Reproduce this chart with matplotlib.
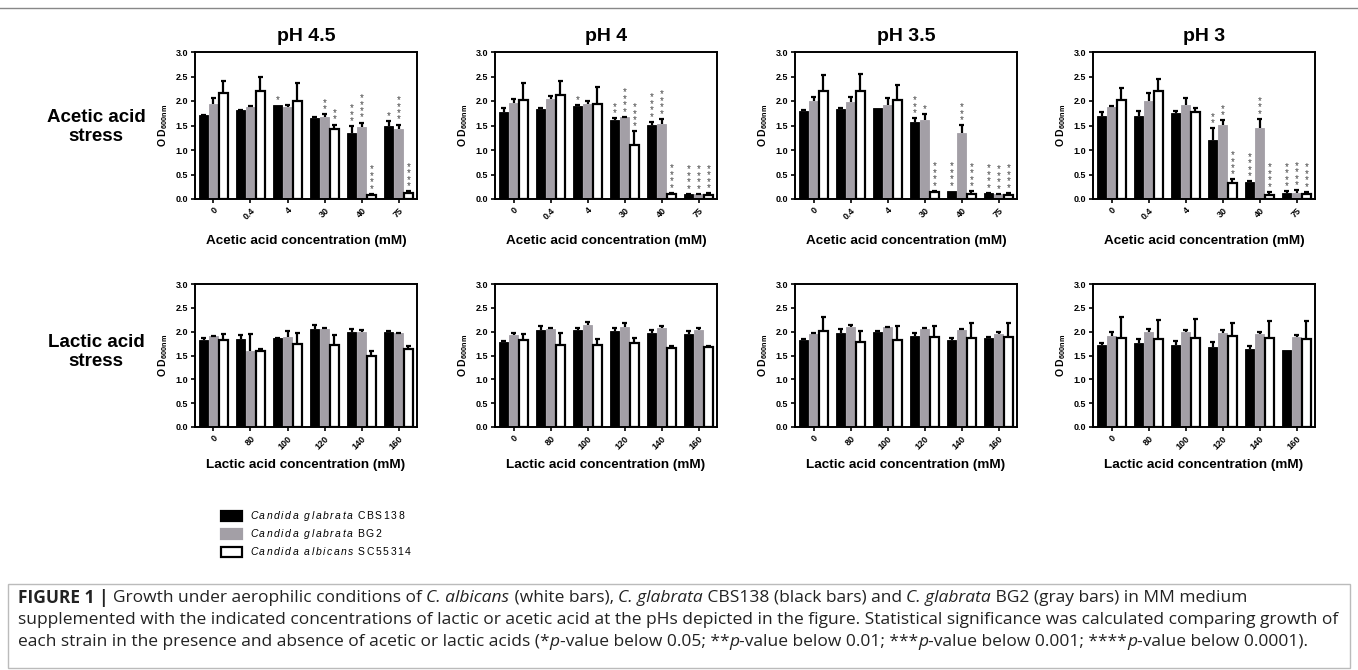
import matplotlib
matplotlib.use("Agg")
import matplotlib.pyplot as plt
import numpy as np
from matplotlib.patches import Rectangle
from matplotlib.lines import Line2D

plt.rcParams["font.family"] = ["Liberation Sans", "DejaVu Sans"]
plt.rcParams["mathtext.fontset"] = "custom"
plt.rcParams["mathtext.rm"] = "Liberation Sans:bold"
plt.rcParams["mathtext.bf"] = "Liberation Sans:bold"

# ---- data ----
ph_labels = ["pH 4.5", "pH 4", "pH 3.5", "pH 3"]
acetic_conc = ["0", "0.4", "4", "30", "40", "75"]
lactic_conc = ["0", "80", "100", "120", "140", "160"]
strain_names = [("Candida glabrata", "CBS138"),
                ("Candida glabrata", "BG2"),
                ("Candida albicans", "SC55314")]

# acetic acid, one row per pH
acetic_cbs138 = [[1.71, 1.81, 1.92, 1.66, 1.35, 1.48],
                 [1.78, 1.84, 1.90, 1.62, 1.52, 0.10],
                 [1.80, 1.84, 1.85, 1.58, 0.17, 0.12],
                 [1.70, 1.70, 1.76, 1.21, 0.35, 0.12]]
acetic_cbs138_sd = [[0.01, 0.01, 0.00, 0.01, 0.14, 0.11],
                    [0.08, 0.01, 0.02, 0.03, 0.06, 0.01],
                    [0.01, 0.02, 0.00, 0.07, 0.00, 0.01],
                    [0.07, 0.10, 0.03, 0.23, 0.01, 0.04]]
acetic_bg2 = [[1.93, 1.88, 1.87, 1.67, 1.46, 1.43],
              [1.96, 2.05, 1.93, 1.67, 1.54, 0.10],
              [2.00, 1.98, 1.92, 1.62, 1.34, 0.10],
              [1.87, 2.00, 1.92, 1.51, 1.44, 0.13]]
acetic_bg2_sd = [[0.13, 0.02, 0.04, 0.06, 0.10, 0.09],
                 [0.09, 0.06, 0.06, 0.01, 0.10, 0.01],
                 [0.09, 0.10, 0.14, 0.11, 0.17, 0.01],
                 [0.03, 0.16, 0.14, 0.10, 0.20, 0.05]]
acetic_sc5314 = [[2.17, 2.20, 2.00, 1.43, 0.09, 0.13],
                 [2.02, 2.12, 1.94, 1.10, 0.10, 0.08],
                 [2.21, 2.21, 2.02, 0.15, 0.11, 0.09],
                 [2.03, 2.21, 1.78, 0.32, 0.09, 0.10]]
acetic_sc5314_sd = [[0.24, 0.28, 0.36, 0.09, 0.02, 0.03],
                    [0.34, 0.28, 0.34, 0.28, 0.03, 0.04],
                    [0.33, 0.35, 0.31, 0.02, 0.05, 0.04],
                    [0.23, 0.24, 0.07, 0.08, 0.06, 0.05]]
# number of significance stars
acetic_cbs138_sig = [[0, 0, 1, 0, 3, 1],
                     [0, 0, 1, 2, 4, 4],
                     [0, 0, 0, 3, 4, 4],
                     [0, 0, 0, 2, 4, 4]]
acetic_bg2_sig = [[0, 0, 0, 2, 4, 4],
                  [0, 0, 0, 4, 4, 4],
                  [0, 0, 0, 1, 3, 4],
                  [0, 0, 0, 2, 3, 4]]
acetic_sc5314_sig = [[0, 0, 0, 2, 4, 4],
                     [0, 0, 0, 4, 4, 4],
                     [0, 0, 0, 4, 4, 4],
                     [0, 0, 0, 4, 4, 4]]

# lactic acid, one row per pH
lactic_cbs138 = [[1.83, 1.84, 1.86, 2.05, 2.00, 2.00],
                 [1.79, 2.03, 2.04, 2.02, 1.98, 1.95],
                 [1.82, 1.98, 2.00, 1.91, 1.83, 1.86],
                 [1.72, 1.77, 1.72, 1.68, 1.64, 1.62]]
lactic_cbs138_sd = [[0.03, 0.09, 0.01, 0.09, 0.05, 0.01],
                    [0.02, 0.09, 0.03, 0.05, 0.06, 0.07],
                    [0.02, 0.08, 0.02, 0.07, 0.04, 0.03],
                    [0.04, 0.08, 0.08, 0.10, 0.06, 0.00]]
lactic_bg2 = [[1.90, 1.60, 1.89, 2.05, 2.00, 1.97],
              [1.93, 2.06, 2.13, 2.10, 2.08, 2.03],
              [1.95, 2.10, 2.09, 2.05, 2.03, 1.96],
              [1.90, 2.00, 2.00, 1.98, 1.95, 1.88]]
lactic_bg2_sd = [[0.01, 0.35, 0.13, 0.02, 0.03, 0.01],
                 [0.05, 0.02, 0.07, 0.08, 0.04, 0.05],
                 [0.02, 0.03, 0.01, 0.02, 0.02, 0.04],
                 [0.09, 0.06, 0.03, 0.05, 0.05, 0.05]]
lactic_sc5314 = [[1.83, 1.60, 1.74, 1.73, 1.48, 1.63],
                 [1.82, 1.72, 1.73, 1.77, 1.65, 1.67],
                 [2.02, 1.78, 1.83, 1.89, 1.87, 1.88],
                 [1.86, 1.85, 1.87, 1.91, 1.87, 1.84]]
lactic_sc5314_sd = [[0.13, 0.03, 0.24, 0.20, 0.12, 0.07],
                    [0.14, 0.26, 0.11, 0.09, 0.05, 0.03],
                    [0.28, 0.24, 0.29, 0.23, 0.31, 0.30],
                    [0.44, 0.40, 0.39, 0.27, 0.36, 0.38]]

GRAY = "#a39fa6"
W, H = 1358, 670


def draw_panel(ax, cats, means, sds, sigs):
    x = np.arange(len(cats))
    width = 0.25
    offsets = [-0.27, 0.0, 0.27]
    faces = ["black", GRAY, "white"]
    edges = ["black", GRAY, "black"]
    for k in range(3):
        xs = x + offsets[k]
        ax.bar(xs, means[k], width=width, color=faces[k], edgecolor=edges[k],
               linewidth=1.6 if k == 2 else 0.6, zorder=2)
        top = np.array(means[k]) + np.array(sds[k])
        for xi, m, t in zip(xs, means[k], top):
            if t - m > 0.004:
                ax.vlines(xi, m, t, color="black", linewidth=1.6, zorder=3)
                ax.hlines(t, xi - 0.06, xi + 0.06, color="black", linewidth=1.6, zorder=3)
        if sigs is not None:
            for xi, t, n in zip(xs, top, sigs[k]):
                if n > 0:
                    ax.annotate("\n".join(["*"] * n), (xi, t), xytext=(0, 0),
                                textcoords="offset points", ha="center", va="bottom",
                                fontsize=7, linespacing=0.55, color="#444444")
    ax.set_xlim(-0.5, len(cats) - 0.5)
    ax.set_ylim(0, 3.0)
    ax.set_yticks(np.arange(0, 3.01, 0.5))
    ax.set_yticklabels([f"{v:.1f}" for v in np.arange(0, 3.01, 0.5)],
                       fontsize=6.5, fontweight="bold")
    ax.set_xticks(x)
    ax.set_xticklabels(cats, rotation=45, fontsize=6.5, fontweight="bold",
                       ha="right", rotation_mode="anchor")
    ax.tick_params(axis="both", length=3, width=1.2, pad=2)
    for s in ax.spines.values():
        s.set_linewidth(1.4)
    ax.set_ylabel(r"O D$_{\mathbf{600nm}}$", fontsize=7.5, fontweight="bold", labelpad=4)


fig = plt.figure(figsize=(W / 100, H / 100), dpi=100)
renderer = fig.canvas.get_renderer()


def style_kw(kind, size):
    kw = {"fontsize": size}
    if kind == "bold":
        kw["fontweight"] = "bold"
    if kind == "italic":
        kw["style"] = "italic"
    return kw


def run_width(s, kind, size, family=None):
    kw = style_kw(kind, size)
    if family:
        kw["family"] = family
    a = fig.text(0, 0, s + "|", **kw)
    b = fig.text(0, 0, "|", **kw)
    w = a.get_window_extent(renderer).width - b.get_window_extent(renderer).width
    a.remove()
    b.remove()
    return w


def tracked_text(xpix, ypix, s, kind, size, track):
    # draw text char by char with extra letter spacing (pixels)
    for ch in s:
        fig.text(xpix / W, 1 - ypix / H, ch, ha="left", va="center",
                 **style_kw(kind, size))
        xpix += run_width(ch, kind, size) + track
    return xpix


lefts = [195, 495, 795, 1093]
pw = 222
rows = [(52, 199), (284, 427)]

for i in range(4):
    l = lefts[i] / W
    # acetic
    t, b = rows[0]
    ax = fig.add_axes([l, 1 - b / H, pw / W, (b - t) / H])
    draw_panel(ax, acetic_conc,
               [acetic_cbs138[i], acetic_bg2[i], acetic_sc5314[i]],
               [acetic_cbs138_sd[i], acetic_bg2_sd[i], acetic_sc5314_sd[i]],
               [acetic_cbs138_sig[i], acetic_bg2_sig[i], acetic_sc5314_sig[i]])
    ax.set_title(ph_labels[i], fontsize=14, fontweight="bold", pad=8)
    fig.text((lefts[i] + pw / 2) / W, 1 - 241 / H, "Acetic acid concentration (mM)",
             ha="center", va="center", fontsize=9.7, fontweight="bold")
    # lactic
    t, b = rows[1]
    ax = fig.add_axes([l, 1 - b / H, pw / W, (b - t) / H])
    draw_panel(ax, lactic_conc,
               [lactic_cbs138[i], lactic_bg2[i], lactic_sc5314[i]],
               [lactic_cbs138_sd[i], lactic_bg2_sd[i], lactic_sc5314_sd[i]],
               None)
    fig.text((lefts[i] + pw / 2) / W, 1 - 465 / H, "Lactic acid concentration (mM)",
             ha="center", va="center", fontsize=9.7, fontweight="bold")

fig.text(96 / W, 1 - 127 / H, "Acetic acid\nstress", ha="center", va="center",
         fontsize=13.5, fontweight="bold", linespacing=1.2)
fig.text(96 / W, 1 - 352 / H, "Lactic acid\nstress", ha="center", va="center",
         fontsize=13.5, fontweight="bold", linespacing=1.2)

# legend
faces = ["black", GRAY, "white"]
for k, (genus, strain) in enumerate(strain_names):
    yc = 516 + 18 * k
    fig.patches.append(Rectangle((221 / W, 1 - (yc + 5) / H), 21 / W, 10 / H,
                                 transform=fig.transFigure, facecolor=faces[k],
                                 edgecolor="black" if k != 1 else GRAY, linewidth=1.6))
    xp = tracked_text(250, yc, genus, "italic", 7.5, 1.6)
    xp = tracked_text(xp + 3, yc, strain, "normal", 7.5, 1.6)

# top rule and caption box
fig.add_artist(Line2D([0, 1], [1 - 8 / H, 1 - 8 / H], transform=fig.transFigure,
                      color="#888888", linewidth=1.0))
fig.patches.append(Rectangle((8 / W, 1 - 668 / H), 1342 / W, 84 / H,
                             transform=fig.transFigure, facecolor="white",
                             edgecolor="#bbbbbb", linewidth=1.0))

caption = [
    [("FIGURE 1 | ", "bold"), ("Growth under aerophilic conditions of ", "normal"),
     ("C. albicans", "italic"), (" (white bars), ", "normal"), ("C. glabrata", "italic"),
     (" CBS138 (black bars) and ", "normal"), ("C. glabrata", "italic"),
     (" BG2 (gray bars) in MM medium", "normal")],
    [("supplemented with the indicated concentrations of lactic or acetic acid at the pHs "
      "depicted in the figure. Statistical significance was calculated comparing growth of",
      "normal")],
    [("each strain in the presence and absence of acetic or lactic acids (*", "normal"),
     ("p", "italic"), ("-value below 0.05; **", "normal"), ("p", "italic"),
     ("-value below 0.01; ***", "normal"), ("p", "italic"),
     ("-value below 0.001; ****", "normal"), ("p", "italic"),
     ("-value below 0.0001).", "normal")],
]

# size the caption font so that the second line spans the box like in the original
CAP_FAMILY = "Open Sans"
base = 10.0
w2 = run_width(caption[1][0][0], "normal", base, CAP_FAMILY)
cap_size = base * 1320 / w2

for li, line in enumerate(caption):
    xpix = 18
    ypix = 598 + 22 * li
    for s, kind in line:
        w = run_width(s, kind, cap_size, CAP_FAMILY)
        fig.text(xpix / W, 1 - ypix / H, s, ha="left", va="center",
                 color="#222222", family=CAP_FAMILY, **style_kw(kind, cap_size))
        xpix += w

fig.savefig("out.png", dpi=100, facecolor="white")
